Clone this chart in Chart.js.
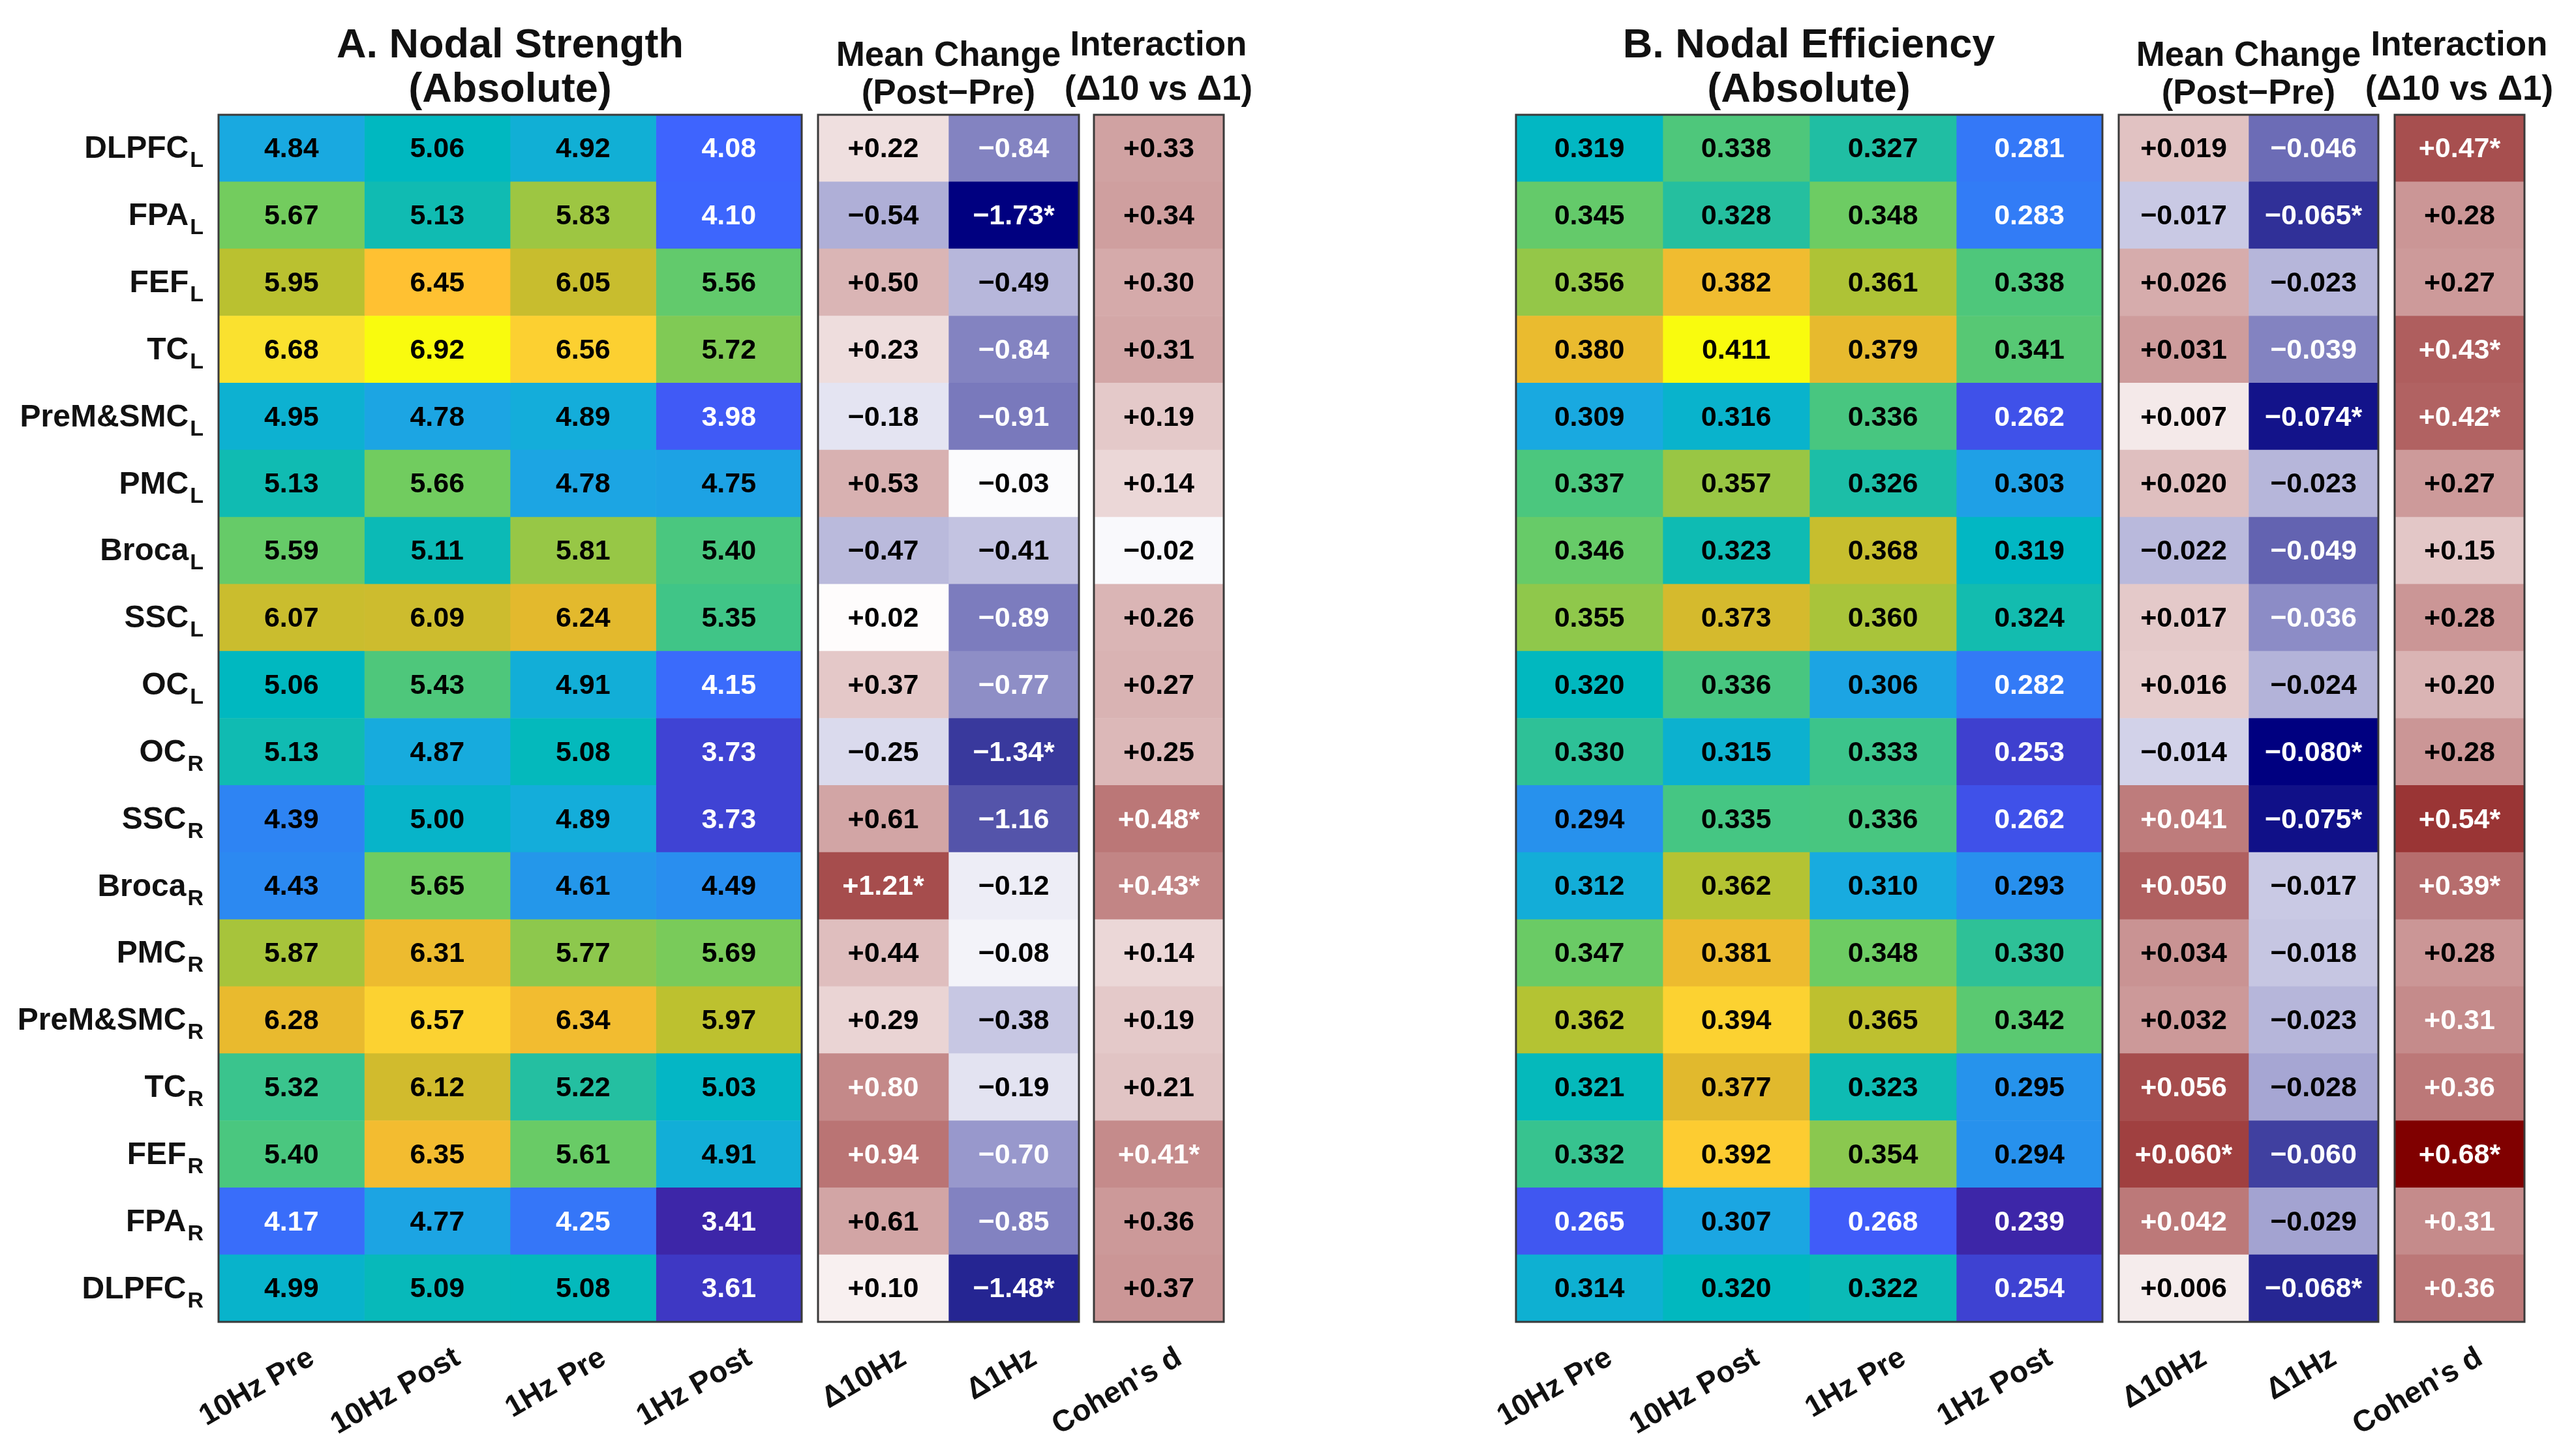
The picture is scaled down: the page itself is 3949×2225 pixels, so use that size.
<!DOCTYPE html>
<html>
<head>
<meta charset="utf-8">
<script src="https://cdn.jsdelivr.net/npm/chart.js@4.4.1/dist/chart.umd.min.js"></script>
<style>
body{margin:0;background:#fff;width:3949px;height:2225px;overflow:hidden;position:relative;font-family:"Liberation Sans",Arial,sans-serif;}
#wrap{position:absolute;left:0;top:0;width:3949px;height:2225px;}
.t{position:absolute;font-weight:bold;color:#111;text-align:center;white-space:nowrap;transform:translate(-50%,-50%);line-height:1;}
.big{font-size:63px;}
.mid{font-size:53px;}
</style>
</head>
<body>
<div id="wrap"><canvas id="c" width="3949" height="2225"></canvas></div>
<div class="t big" style="left:782px;top:66px">A. Nodal Strength</div>
<div class="t big" style="left:782px;top:134px">(Absolute)</div>
<div class="t mid" style="left:1454px;top:82px">Mean Change</div>
<div class="t mid" style="left:1454px;top:140px">(Post−Pre)</div>
<div class="t mid" style="left:1776px;top:66px">Interaction</div>
<div class="t mid" style="left:1776px;top:134px">(Δ10 vs Δ1)</div>
<div class="t big" style="left:2773px;top:66px">B. Nodal Efficiency</div>
<div class="t big" style="left:2773px;top:134px">(Absolute)</div>
<div class="t mid" style="left:3447px;top:82px">Mean Change</div>
<div class="t mid" style="left:3447px;top:140px">(Post−Pre)</div>
<div class="t mid" style="left:3770px;top:66px">Interaction</div>
<div class="t mid" style="left:3770px;top:134px">(Δ10 vs Δ1)</div>
<script>
/* ================= DATA ================= */

let regions = ["DLPFC","FPA","FEF","TC","PreM&SMC","PMC","Broca","SSC","OC","OC","SSC","Broca","PMC","PreM&SMC","TC","FEF","FPA","DLPFC"];
let sides = ["L","L","L","L","L","L","L","L","L","R","R","R","R","R","R","R","R","R"];
let colLabels = ["10Hz Pre","10Hz Post","1Hz Pre","1Hz Post","Δ10Hz","Δ1Hz","Cohen's d"];

// A. nodal strength
let nsPre10  = [4.84,5.67,5.95,6.68,4.95,5.13,5.59,6.07,5.06,5.13,4.39,4.43,5.87,6.28,5.32,5.40,4.17,4.99];
let nsPost10 = [5.06,5.13,6.45,6.92,4.78,5.66,5.11,6.09,5.43,4.87,5.00,5.65,6.31,6.57,6.12,6.35,4.77,5.09];
let nsPre1   = [4.92,5.83,6.05,6.56,4.89,4.78,5.81,6.24,4.91,5.08,4.89,4.61,5.77,6.34,5.22,5.61,4.25,5.08];
let nsPost1  = [4.08,4.10,5.56,5.72,3.98,4.75,5.40,5.35,4.15,3.73,3.73,4.49,5.69,5.97,5.03,4.91,3.41,3.61];
let nsD10    = [0.22,-0.54,0.50,0.23,-0.18,0.53,-0.47,0.02,0.37,-0.25,0.61,1.21,0.44,0.29,0.80,0.94,0.61,0.10];
let nsD1     = [-0.84,-1.73,-0.49,-0.84,-0.91,-0.03,-0.41,-0.89,-0.77,-1.34,-1.16,-0.12,-0.08,-0.38,-0.19,-0.70,-0.85,-1.48];
let nsD      = [0.33,0.34,0.30,0.31,0.19,0.14,-0.02,0.26,0.27,0.25,0.48,0.43,0.14,0.19,0.21,0.41,0.36,0.37];
let nsD10Sig = [11];
let nsD1Sig  = [1,9,17];
let nsDSig   = [10,11,15];

// B. nodal efficiency
let nePre10  = [0.319,0.345,0.356,0.380,0.309,0.337,0.346,0.355,0.320,0.330,0.294,0.312,0.347,0.362,0.321,0.332,0.265,0.314];
let nePost10 = [0.338,0.328,0.382,0.411,0.316,0.357,0.323,0.373,0.336,0.315,0.335,0.362,0.381,0.394,0.377,0.392,0.307,0.320];
let nePre1   = [0.327,0.348,0.361,0.379,0.336,0.326,0.368,0.360,0.306,0.333,0.336,0.310,0.348,0.365,0.323,0.354,0.268,0.322];
let nePost1  = [0.281,0.283,0.338,0.341,0.262,0.303,0.319,0.324,0.282,0.253,0.262,0.293,0.330,0.342,0.295,0.294,0.239,0.254];
let neD10    = [0.019,-0.017,0.026,0.031,0.007,0.020,-0.022,0.017,0.016,-0.014,0.041,0.050,0.034,0.032,0.056,0.060,0.042,0.006];
let neD1     = [-0.046,-0.065,-0.023,-0.039,-0.074,-0.023,-0.049,-0.036,-0.024,-0.080,-0.075,-0.017,-0.018,-0.023,-0.028,-0.060,-0.029,-0.068];
let neD      = [0.47,0.28,0.27,0.43,0.42,0.27,0.15,0.28,0.20,0.28,0.54,0.39,0.28,0.31,0.36,0.68,0.31,0.36];
let neD10Sig = [15];
let neD1Sig  = [1,4,9,10,17];
let neDSig   = [0,3,4,10,11,15];

/* ================= COLOURS ================= */

let parStops = [
[0.00,[61,38,168]],[0.18,[64,96,255]],[0.30,[42,140,240]],[0.41,[25,170,224]],
[0.47,[0,184,192]],[0.56,[70,198,130]],[0.64,[112,204,96]],[0.72,[184,194,48]],
[0.79,[218,184,44]],[0.86,[255,190,50]],[0.93,[250,224,48]],[1.00,[249,251,14]]
];

function parula(t){
t = Math.max(0,Math.min(1,t));
for(let i=1;i<parStops.length;i++){
if(t <= parStops[i][0]){
let a = parStops[i-1], b = parStops[i];
let f = (t-a[0])/(b[0]-a[0]);
let c = a[1].map((v,k)=>Math.round(v+(b[1][k]-v)*f));
return "rgb("+c.join(",")+")";
}
}
return "rgb(249,251,14)";
}

function mainCell(min,max){
return v => {
let t = (v-min)/(max-min);
return {bg:parula(t), fg: t < 0.26 ? "#fff" : "#000"};
};
}

function divCell(lim){
return v => {
let f = Math.min(1,Math.abs(v)/lim);
let c, lum;
if(v >= 0){
c = [255-127*f,255-255*f,255-255*f];
}else{
c = [255-255*f,255-255*f,255-127*f];
}
lum = 0.299*c[0]+0.587*c[1]+0.114*c[2];
return {bg:"rgb("+c.map(Math.round).join(",")+")", fg: lum < 160 ? "#fff" : "#000"};
};
}

function fmt(dec,signed){
return v => {
let s = Math.abs(v).toFixed(dec);
if(!signed) return s;
return (v < 0 ? "−" : "+") + s;
};
}

/* ================= COLUMNS ================= */

// column edges in page pixels (x scale runs in the same units)
let columns = [
{vals:nsPre10, x0:335, x1:558.5, cell:mainCell(3.41,6.92), f:fmt(2,false), sig:[]},
{vals:nsPost10,x0:558.5,x1:782, cell:mainCell(3.41,6.92), f:fmt(2,false), sig:[]},
{vals:nsPre1,  x0:782, x1:1005.5,cell:mainCell(3.41,6.92), f:fmt(2,false), sig:[]},
{vals:nsPost1, x0:1005.5,x1:1229,cell:mainCell(3.41,6.92), f:fmt(2,false), sig:[]},
{vals:nsD10,   x0:1254,x1:1454, cell:divCell(1.73), f:fmt(2,true), sig:nsD10Sig},
{vals:nsD1,    x0:1454,x1:1654, cell:divCell(1.73), f:fmt(2,true), sig:nsD1Sig},
{vals:nsD,     x0:1677,x1:1876, cell:divCell(0.9),  f:fmt(2,true), sig:nsDSig},
{vals:nePre10, x0:2324,x1:2549, cell:mainCell(0.239,0.411), f:fmt(3,false), sig:[]},
{vals:nePost10,x0:2549,x1:2774, cell:mainCell(0.239,0.411), f:fmt(3,false), sig:[]},
{vals:nePre1,  x0:2774,x1:2999, cell:mainCell(0.239,0.411), f:fmt(3,false), sig:[]},
{vals:nePost1, x0:2999,x1:3223, cell:mainCell(0.239,0.411), f:fmt(3,false), sig:[]},
{vals:neD10,   x0:3248,x1:3447, cell:divCell(0.080), f:fmt(3,true), sig:neD10Sig},
{vals:neD1,    x0:3447,x1:3646, cell:divCell(0.080), f:fmt(3,true), sig:neD1Sig},
{vals:neD,     x0:3671,x1:3870, cell:divCell(0.68),  f:fmt(2,true), sig:neDSig}
];

let blocks = [[0,3],[4,5],[6,6],[7,10],[11,12],[13,13]];

let datasets = columns.map(c => {
let cells = c.vals.map(c.cell);
return {
data: c.vals.map(()=>[c.x0,c.x1]),
backgroundColor: cells.map(k=>k.bg),
textColor: cells.map(k=>k.fg),
texts: c.vals.map((v,i)=>c.f(v) + (c.sig.includes(i) ? "*" : "")),
grouped:false,
barPercentage:1,
categoryPercentage:1,
borderWidth:0
};
});

/* ================= LABELS PLUGIN ================= */

let labelPlugin = {
id:"labels",
afterDatasetsDraw(chart){
let ctx = chart.ctx;
let xs = chart.scales.x, ys = chart.scales.y;
ctx.save();

// cell values
ctx.textAlign = "center";
ctx.textBaseline = "middle";
ctx.font = "bold 43px 'Liberation Sans', Arial";
chart.data.datasets.forEach((ds,di)=>{
let meta = chart.getDatasetMeta(di);
meta.data.forEach((el,i)=>{
ctx.fillStyle = ds.textColor[i];
ctx.fillText(ds.texts[i], (el.x+el.base)/2, el.y+2);
});
});

// block outlines
let top = chart.chartArea.top, bottom = chart.chartArea.bottom;
ctx.strokeStyle = "#3a3a3a";
ctx.lineWidth = 3;
blocks.forEach(b=>{
let l = xs.getPixelForValue(columns[b[0]].x0);
let r = xs.getPixelForValue(columns[b[1]].x1);
ctx.strokeRect(l, top, r-l, bottom-top);
});

// row labels with subscripts
ctx.textBaseline = "alphabetic";
ctx.textAlign = "left";
regions.forEach((name,i)=>{
let y = ys.getPixelForValue(i) + 15;
ctx.font = "bold 34px 'Liberation Sans', Arial";
let sw = ctx.measureText(sides[i]).width;
ctx.font = "bold 48px 'Liberation Sans', Arial";
let nw = ctx.measureText(name).width;
let right = 312;
ctx.fillStyle = "#111";
ctx.fillText(name, right-sw-nw-2, y);
ctx.font = "bold 34px 'Liberation Sans', Arial";
ctx.fillText(sides[i], right-sw, y+14);
});

// rotated column labels
ctx.font = "bold 46px 'Liberation Sans', Arial";
ctx.textAlign = "right";
ctx.textBaseline = "top";
columns.forEach((c,ci)=>{
let cx = xs.getPixelForValue((c.x0+c.x1)/2);
ctx.save();
ctx.translate(cx+20, bottom+32);
ctx.rotate(-Math.PI/6);
ctx.fillText(colLabels[ci % 7], 0, 0);
ctx.restore();
});

ctx.restore();
}
};

/* ================= CHART ================= */

new Chart(document.getElementById("c"),{
type:"bar",
data:{labels:regions.map((r,i)=>r+sides[i]), datasets:datasets},
options:{
indexAxis:"y",
responsive:false,
animation:false,
devicePixelRatio:1,
layout:{padding:{left:335,right:79,top:176,bottom:198}},
plugins:{legend:{display:false},tooltip:{enabled:false}},
scales:{
x:{type:"linear",min:335,max:3870,display:false},
y:{type:"category",display:false,offset:true}
}
},
plugins:[labelPlugin]
});
</script>
</body>
</html>
